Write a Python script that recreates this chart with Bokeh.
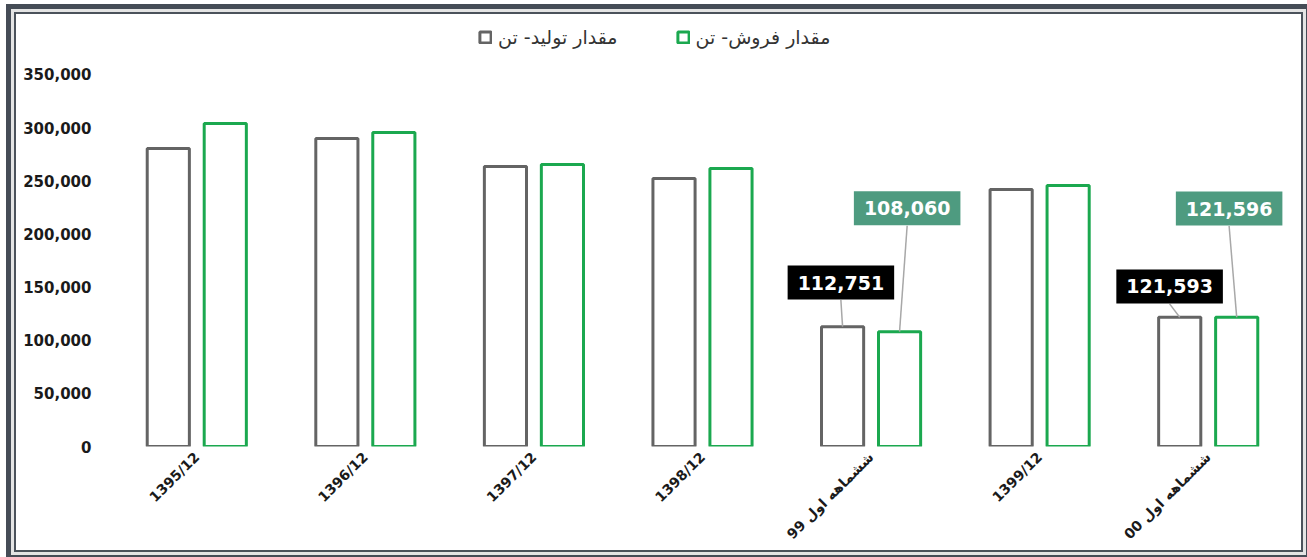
import numpy as np
from bokeh.plotting import figure
from bokeh.models import Range1d, FixedTicker, NumeralTickFormatter, Label, Legend, LegendItem
from bokeh.embed import file_html
from bokeh.resources import INLINE

# ---------------- data ----------------
categories = ["1395/12", "1396/12", "1397/12", "1398/12", "ششماهه اول 99", "1399/12", "ششماهه اول 00"]
production = [280400, 289800, 263400, 252100, 112751, 241800, 121593]
sales = [303900, 295400, 265300, 261600, 108060, 245600, 121596]
series_names = ["مقدار تولید- تن", "مقدار فروش- تن"]
y_ticks = [0, 50000, 100000, 150000, 200000, 250000, 300000, 350000]
labelled_groups = [4, 6]

# ---------------- style ----------------
GREY = "#646464"
GREEN = "#1ba84f"
LABEL_GREEN = "#4e9b80"
LEADER = "#a8a8a8"
OFF = 0.169
BW = 0.25
Y_TOP = 400800          # head-room above the last tick for the legend
# label placement (style offsets: x in category units, y in value units)
grey_label_dx = {4: -0.01, 6: -0.06}
grey_label_dy = {4: 41500, 6: 29000}
green_label_dx = {4: 0.045, 6: -0.045}
green_label_dy = {4: 116000, 6: 102300}
BOX_HALF = 16400

xc = np.arange(len(categories)) + 0.5

p = figure(width=1285, height=536, x_range=Range1d(0, len(categories)), y_range=Range1d(0, Y_TOP),
           output_backend="svg", toolbar_location=None,
           min_border_left=96, min_border_right=9, min_border_top=6, min_border_bottom=104)
p.margin = (14, 6, 7, 16)
p.styles = {"box-shadow": "0 0 0 2px #4b525b, 0 0 0 5px #e4e4e4, 0 0 0 10px #454c56"}
p.outline_line_color = None
p.xgrid.visible = False
p.ygrid.visible = False
p.background_fill_color = "white"
p.border_fill_color = "white"

r1 = p.vbar(x=xc - OFF, top=production, bottom=0, width=BW, fill_color="white", line_color=GREY, line_width=3)
r2 = p.vbar(x=xc + OFF, top=sales, bottom=0, width=BW, fill_color="white", line_color=GREEN, line_width=3)

# axes
p.yaxis.ticker = FixedTicker(ticks=y_ticks)
p.yaxis.formatter = NumeralTickFormatter(format="0,0")
p.xaxis.ticker = FixedTicker(ticks=list(xc))
p.xaxis.major_label_overrides = {float(v): c for v, c in zip(xc, categories)}
p.xaxis.major_label_orientation = np.pi / 4
for ax in (p.xaxis, p.yaxis):
    ax.axis_line_color = None
    ax.major_tick_line_color = None
    ax.minor_tick_line_color = None
    ax.major_tick_out = 0
    ax.major_tick_in = 0
    ax.minor_tick_out = 0
    ax.major_label_text_font = "DejaVu Sans"
    ax.major_label_text_font_style = "bold"
    ax.major_label_text_color = "#1a1a1a"
p.yaxis.major_label_text_font_size = "15px"
p.yaxis.major_label_standoff = 21
p.xaxis.major_label_text_font_size = "14px"
p.xaxis.major_label_standoff = 8

# data labels with leader lines
sx0, sy0, sx1, sy1 = [], [], [], []
for i in labelled_groups:
    for vals, sign, dxs, dys, bg in ((production, -1, grey_label_dx, grey_label_dy, "black"),
                                     (sales, 1, green_label_dx, green_label_dy, LABEL_GREEN)):
        bx = xc[i] + sign * OFF
        lx = bx + dxs[i]
        ly = vals[i] + dys[i]
        sx0.append(bx); sy0.append(vals[i]); sx1.append(lx); sy1.append(ly - BOX_HALF)
        p.add_layout(Label(x=lx, y=ly, text=f"{vals[i]:,}", text_align="center", text_baseline="middle",
                           text_color="white", text_font="DejaVu Sans", text_font_style="bold",
                           text_font_size="19px", background_fill_color=bg, padding=(10, 10)))
p.segment(x0=sx0, y0=sy0, x1=sx1, y1=sy1, line_color=LEADER, line_width=1.5)

legend = Legend(items=[LegendItem(label=series_names[0], renderers=[r1]),
                       LegendItem(label=series_names[1], renderers=[r2])],
                location=(366, 398), orientation="horizontal")
legend.border_line_color = None
legend.background_fill_alpha = 0
legend.padding = 0
legend.margin = 0
legend.spacing = 58
legend.glyph_width = 14
legend.glyph_height = 14
legend.label_height = 22
legend.label_standoff = 6
legend.label_text_font = "DejaVu Sans"
legend.label_text_font_size = "19px"
legend.label_text_color = "#333333"
p.add_layout(legend)

open("out.html", "w").write(file_html(p, INLINE))
